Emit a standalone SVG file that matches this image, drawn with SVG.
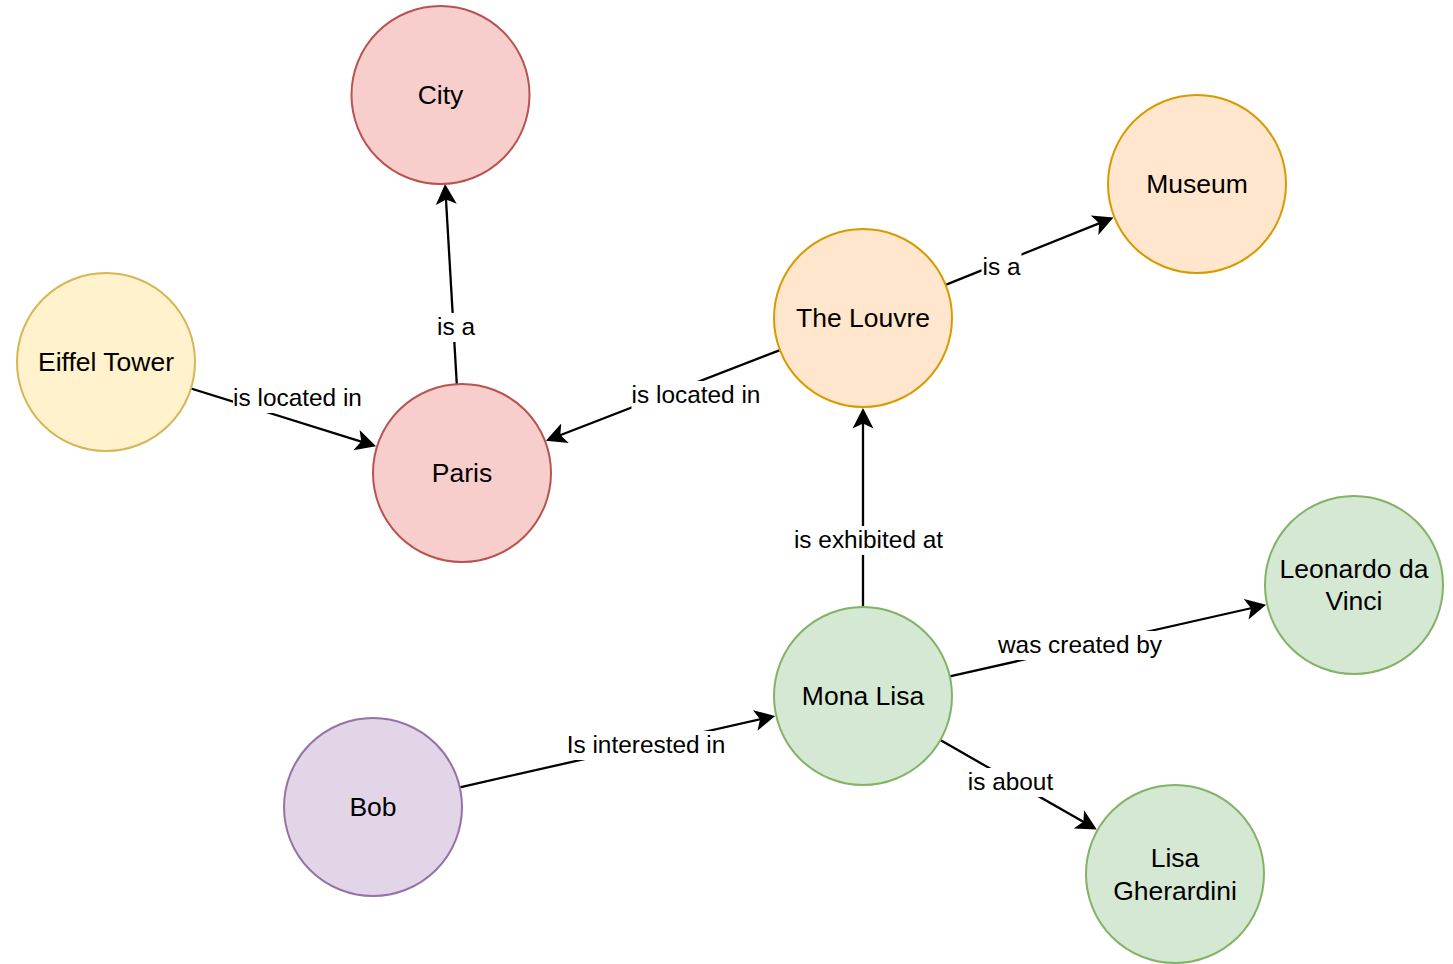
<svg xmlns="http://www.w3.org/2000/svg" width="1453" height="964" viewBox="0 0 1453 964">
<style>
.node circle{stroke-width:2}
.red circle{fill:#f8cecc;stroke:#b85450}
.orange circle{fill:#ffe6cc;stroke:#d79b00}
.yellow circle{fill:#fff2cc;stroke:#d6b656}
.green circle{fill:#d5e8d4;stroke:#82b366}
.purple circle{fill:#e1d5e7;stroke:#9673a6}
.node text{font-family:"Liberation Sans",Arial,sans-serif;font-size:26.5px;fill:#000;text-anchor:middle}
.edge line{stroke:#000;stroke-width:2.3;marker-end:url(#arr)}
.edge rect{fill:#fff}
.edge text{font-family:"Liberation Sans",Arial,sans-serif;font-size:24.4px;fill:#000;text-anchor:middle}
</style>
<defs>
<marker id="arr" markerUnits="userSpaceOnUse" markerWidth="22" markerHeight="22" viewBox="0 0 22 22" refX="15" refY="11" orient="auto">
<path d="M20.5,11 L0,0.5 L5,11 L0,21.5 Z" fill="#000"/>
</marker>
</defs>
<rect width="1453" height="964" fill="#fff"/>
<g id="connectors">
<g class="edge" id="e-paris-city"><line x1="456.8" y1="384.1" x2="445.4" y2="189.5"/><rect x="436" y="313" width="40" height="29"/><text x="456" y="335">is a</text></g>
<g class="edge" id="e-eiffel-paris"><line x1="191" y1="388.5" x2="370.8" y2="444.6"/><rect x="233" y="384" width="129" height="29"/><text x="297.5" y="406">is located in</text></g>
<g class="edge" id="e-louvre-paris"><line x1="780" y1="350.1" x2="551" y2="438.7"/><rect x="631.5" y="381" width="129" height="29"/><text x="696" y="403">is located in</text></g>
<g class="edge" id="e-louvre-museum"><line x1="945.6" y1="284.9" x2="1108.4" y2="219.6"/><rect x="981.5" y="253" width="40" height="29"/><text x="1001.5" y="275">is a</text></g>
<g class="edge" id="e-mona-louvre"><line x1="863" y1="607" x2="863" y2="413.5"/><rect x="794" y="526" width="149" height="29"/><text x="868.5" y="548">is exhibited at</text></g>
<g class="edge" id="e-mona-leonardo"><line x1="949.8" y1="676.4" x2="1260.8" y2="606"/><rect x="997" y="631" width="166" height="29"/><text x="1080" y="653">was created by</text></g>
<g class="edge" id="e-mona-lisa"><line x1="940.3" y1="740.1" x2="1092" y2="826.7"/><rect x="967" y="768" width="87" height="29"/><text x="1010.5" y="790">is about</text></g>
<g class="edge" id="e-bob-mona"><line x1="459.8" y1="787.3" x2="769.8" y2="717.1"/><rect x="567" y="731" width="158" height="29"/><text x="646" y="753">Is interested in</text></g>
</g>
<g id="city" class="node red"><circle cx="440.5" cy="95" r="89"/><text x="440.5" y="104">City</text></g>
<g id="museum" class="node orange"><circle cx="1197" cy="184" r="89"/><text x="1197" y="193">Museum</text></g>
<g id="louvre" class="node orange"><circle cx="863" cy="318" r="89"/><text x="863" y="327">The Louvre</text></g>
<g id="eiffel" class="node yellow"><circle cx="106" cy="362" r="89"/><text x="106" y="371">Eiffel Tower</text></g>
<g id="paris" class="node red"><circle cx="462" cy="473" r="89"/><text x="462" y="482">Paris</text></g>
<g id="leonardo" class="node green"><circle cx="1354" cy="585" r="89"/><text x="1354" y="577.5">Leonardo da</text><text x="1354" y="610">Vinci</text></g>
<g id="mona" class="node green"><circle cx="863" cy="696" r="89"/><text x="863" y="705">Mona Lisa</text></g>
<g id="bob" class="node purple"><circle cx="373" cy="807" r="89"/><text x="373" y="816">Bob</text></g>
<g id="lisa" class="node green"><circle cx="1175" cy="874" r="89"/><text x="1175" y="866.5">Lisa</text><text x="1175" y="900">Gherardini</text></g>
</svg>
